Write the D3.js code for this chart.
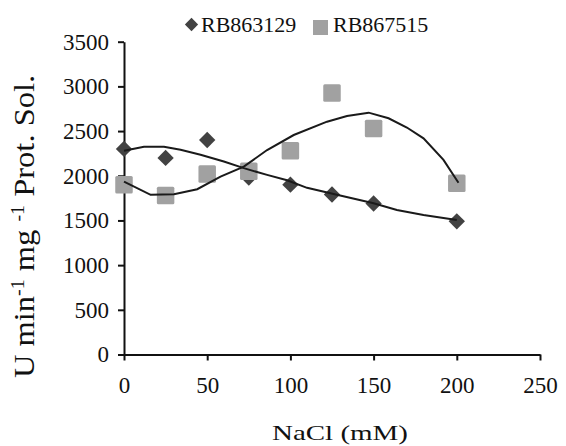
<!DOCTYPE html>
<html>
<head>
<meta charset="utf-8">
<script src="https://cdn.jsdelivr.net/npm/d3@7"></script>
<style>
  body { margin: 0; background: white; }
  text { font-family: "Liberation Serif", "Times New Roman", serif; fill: #111; }
</style>
</head>
<body>
<div id="canvas"></div>
<script>
"use strict"

let drawingWidth = 566;
let drawingHeight = 446;

// NaCl concentrations (mM)
let nacl = [0, 25, 50, 75, 100, 125, 150, 200];
let rb863129 = [2300, 2200, 2400, 1980, 1900, 1790, 1690, 1490];
let rb867515 = [1900, 1780, 2020, 2050, 2280, 2925, 2530, 1915];

// trend lines as drawn in the picture
let trend863129 = [[0, 2280], [12, 2325], [24, 2325], [34, 2290], [46, 2235], [60, 2160],
    [72, 2085], [86, 2010], [98, 1950], [110, 1865], [126, 1795], [150, 1693],
    [164, 1617], [180, 1561], [200, 1505]];
let trend867515 = [[0, 1934], [16, 1787], [30, 1793], [44, 1849], [58, 1990], [72, 2102],
    [86, 2288], [102, 2456], [122, 2605], [134, 2669], [147, 2706], [159, 2643],
    [170, 2540], [180, 2419], [192, 2177], [201, 1922]];

let xTicks = [0, 50, 100, 150, 200, 250];
let yTicks = [0, 500, 1000, 1500, 2000, 2500, 3000, 3500];

let darkColor = "#424242";
let lightColor = "#a1a1a1";

let drawing = d3.select("#canvas")
    .append("svg")
    .attr("width", drawingWidth)
    .attr("height", drawingHeight);

let x = d3.scaleLinear().domain([0, 250]).range([124, 540]);
let y = d3.scaleLinear().domain([0, 3500]).range([354.5, 41.7]);

/* axes */
drawing.append("g")
    .attr("transform", "translate(0," + y(0) + ")")
    .call(d3.axisBottom(x).tickValues(xTicks).tickFormat(d3.format("d"))
        .tickSize(6).tickSizeOuter(0).tickPadding(16));

drawing.append("g")
    .attr("transform", "translate(" + x(0) + ",0)")
    .call(d3.axisLeft(y).tickValues(yTicks).tickFormat(d3.format("d"))
        .tickSize(6).tickSizeOuter(0).tickPadding(9));

drawing.selectAll(".domain, .tick line")
    .attr("stroke", "#111")
    .attr("stroke-width", 2);
drawing.selectAll(".tick text")
    .attr("font-size", 23)
    .attr("fill", "#111");

/* markers: diamonds first, squares over them, trend lines on top */
let diamond = d3.symbol().type(d3.symbolDiamond2).size(170);
drawing.selectAll(".dm")
    .data(nacl)
    .enter()
    .append("path")
    .attr("d", diamond)
    .attr("transform", (d, i) => "translate(" + x(d) + "," + y(rb863129[i]) + ")")
    .attr("fill", darkColor);

let squareSize = 17.5;
drawing.selectAll(".sq")
    .data(nacl)
    .enter()
    .append("rect")
    .attr("x", d => x(d) - squareSize / 2)
    .attr("y", (d, i) => y(rb867515[i]) - squareSize / 2)
    .attr("width", squareSize)
    .attr("height", squareSize)
    .attr("rx", 1.5)
    .attr("fill", lightColor);

let line = d3.line()
    .x(d => x(d[0]))
    .y(d => y(d[1]));

drawing.selectAll(".trend")
    .data([trend863129, trend867515])
    .enter()
    .append("path")
    .attr("d", line)
    .attr("fill", "none")
    .attr("stroke", "#1a1a1a")
    .attr("stroke-width", 2);

/* legend */
drawing.append("path")
    .attr("d", d3.symbol().type(d3.symbolDiamond2).size(112))
    .attr("transform", "translate(191.5,24.5)")
    .attr("fill", darkColor);
drawing.append("text")
    .attr("x", 201)
    .attr("y", 32)
    .attr("font-size", 22)
    .text("RB863129");
drawing.append("rect")
    .attr("x", 313)
    .attr("y", 20)
    .attr("width", 15)
    .attr("height", 15)
    .attr("fill", lightColor);
drawing.append("text")
    .attr("x", 333)
    .attr("y", 32)
    .attr("font-size", 22)
    .text("RB867515");

/* axis titles */
drawing.append("text")
    .attr("x", 272)
    .attr("y", 440)
    .attr("font-size", 22)
    .attr("textLength", 136)
    .attr("lengthAdjust", "spacingAndGlyphs")
    .text("NaCl (mM)");

let yTitle = drawing.append("text")
    .attr("transform", "translate(34,226.5) scale(1.15,1.25) rotate(-90)")
    .attr("text-anchor", "middle")
    .attr("font-size", 26);
yTitle.append("tspan").text("U min");
yTitle.append("tspan").attr("font-size", 16).attr("dy", -9).text("-1");
yTitle.append("tspan").attr("dy", 9).text(" mg ");
yTitle.append("tspan").attr("font-size", 16).attr("dy", -9).text("-1");
yTitle.append("tspan").attr("dy", 9).text(" Prot. Sol.");
</script>
</body>
</html>
